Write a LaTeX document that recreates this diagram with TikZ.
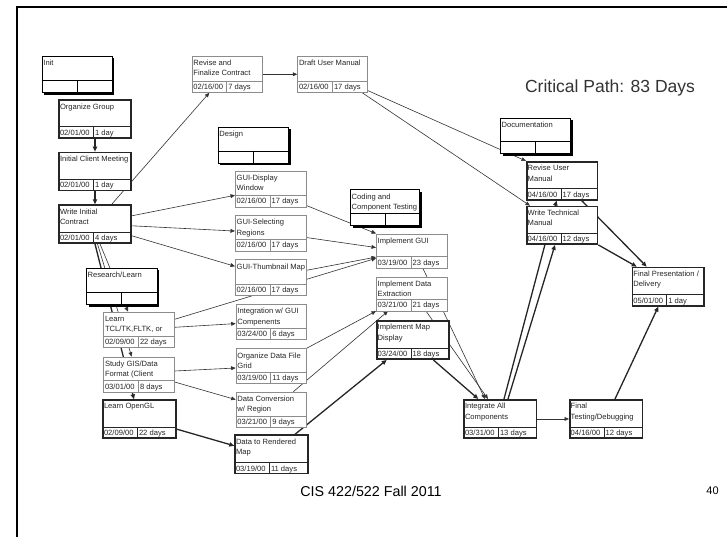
\documentclass[tikz,border=0pt]{standalone}
\usepackage{fontspec}
\setmainfont{Liberation Sans}
\usetikzlibrary{arrows.meta,shadows}
\pgfdeclarelayer{back}
\pgfdeclarelayer{bg}
\pgfsetlayers{back,bg,main}
\tikzset{
 thinbox/.style={draw=black!45, line width=0.6pt, fill=white, inner sep=0pt},
 critbox/.style={draw=black!85, line width=1.6pt, fill=white, inner sep=0pt},
 sumbox/.style={draw=black, line width=0.6pt, fill=white, inner sep=0pt,
   drop shadow={shadow xshift=2.2pt, shadow yshift=-2.2pt, fill=black, opacity=1}},
 thinsep/.style={draw=black!45, line width=0.5pt},
 critsep/.style={draw=black!85, line width=0.8pt},
 sumsep/.style={draw=black, line width=0.5pt},
 ttext/.style={font=\fontsize{7.6}{10.4}\selectfont, inner sep=0pt, align=left, text=black!85},
 link/.style={draw=black!80, line width=0.6pt, -{Triangle[length=4.5pt,width=3.8pt]}},
 critlink/.style={draw=black!85, line width=1.3pt, -{Triangle[length=5pt,width=4.2pt]}},
}
\newcommand\taskbox[9]{%
 \node[#2box, minimum width=#5, minimum height=#6, anchor=north west] (#1) at (#3,#4) {};
 \draw[#2sep] ([yshift=12pt]#1.south west) -- ([yshift=12pt]#1.south east)
   ([xshift=35pt,yshift=12pt]#1.south west) -- ([xshift=35pt]#1.south west);
 \node[ttext, anchor=north west] (#1-t) at ([xshift=1.5pt,yshift=-4pt]#1.north west) {#7};
 \node[ttext, anchor=base west] (#1-d) at ([xshift=1.5pt,yshift=3.3pt]#1.south west) {#8};
 \node[ttext, anchor=base west] (#1-u) at ([xshift=36.5pt,yshift=3.3pt]#1.south west) {#9};
}
\newcommand\sumtask[6]{%
 \node[sumbox, minimum width=#4, minimum height=#5, anchor=north west] (#1) at (#2,#3) {};
 \draw[sumsep] ([yshift=12.5pt]#1.south west) -- ([yshift=12.5pt]#1.south east)
   ([xshift=35.3pt,yshift=12.5pt]#1.south west) -- ([xshift=35.3pt]#1.south west);
 \node[ttext, anchor=north west] (#1-t) at ([xshift=1.5pt,yshift=-4pt]#1.north west) {#6};
}
\begin{document}
\begin{tikzpicture}[x=1pt,y=-1pt]
\useasboundingbox (0,0) rectangle (727,537);
\begin{pgfonlayer}{back}
\fill[white] (0,0) rectangle (727,537);
\end{pgfonlayer}
\draw[line width=1.8pt] (17,537) -- (17,7) -- (727,7);

% summary boxes
\sumtask{init}{41.7}{55.7}{70}{36.6}{Init}
\sumtask{design}{217.7}{126.7}{70.6}{36}{Design}
\sumtask{coding}{350}{189.3}{69.3}{35.7}{Coding and\\Component Testing}
\sumtask{research}{86}{267.7}{70.7}{36.3}{Research/Learn}
\sumtask{doc}{500}{117.7}{70}{35.6}{Documentation}

% tasks
\taskbox{og}{crit}{58.3}{99.3}{72}{38}{Organize Group}{02/01/00}{1 day}
\taskbox{icm}{crit}{58.3}{151.7}{72}{38}{Initial Client Meeting}{02/01/00}{1 day}
\taskbox{wic}{crit}{58.3}{204.3}{72}{38}{Write Initial\\Contract}{02/01/00}{4 days}
\taskbox{rfc}{thin}{191.7}{55.7}{70.5}{36.5}{Revise and\\Finalize Contract}{02/16/00}{7 days}
\taskbox{dum}{thin}{297.3}{55.7}{70}{36.5}{Draft User Manual}{02/16/00}{17 days}
\taskbox{gdw}{thin}{235}{170.7}{71}{36}{GUI-Display\\Window}{02/16/00}{17 days}
\taskbox{gsr}{thin}{235}{215}{71}{35.5}{GUI-Selecting\\Regions}{02/16/00}{17 days}
\taskbox{gtm}{thin}{235}{259.3}{71}{36}{GUI-Thumbnail Map}{02/16/00}{17 days}
\taskbox{igui}{thin}{376}{233.5}{71}{34.5}{Implement GUI}{03/19/00}{23 days}
\taskbox{ide}{thin}{376}{276.5}{71}{34}{Implement Data\\Extraction}{03/21/00}{21 days}
\taskbox{imd}{crit}{376}{320}{72.3}{38.3}{Implement Map\\Display}{03/24/00}{18 days}
\taskbox{ltcl}{thin}{103.3}{311.7}{70.7}{35.6}{Learn\\TCL/TK,FLTK, or}{02/09/00}{22 days}
\taskbox{sgis}{thin}{103.3}{356.7}{70.7}{35}{Study GIS/Data\\Format (Client}{03/01/00}{8 days}
\taskbox{log}{crit}{102.3}{399.3}{72.7}{38}{Learn OpenGL}{02/09/00}{22 days}
\taskbox{iwg}{thin}{235.7}{304}{70.3}{35.3}{Integration w/ GUI\\Compenents}{03/24/00}{6 days}
\taskbox{odf}{thin}{235.7}{348.3}{70.3}{35}{Organize Data File\\Grid}{03/19/00}{11 days}
\taskbox{dcr}{thin}{235.7}{391.7}{70.3}{35.6}{Data Conversion\\w/ Region}{03/21/00}{9 days}
\taskbox{drm}{crit}{234.3}{434.3}{73}{38.4}{Data to Rendered\\Map}{03/19/00}{11 days}
\taskbox{rum}{crit}{526}{161}{70.7}{38}{Revise User\\Manual}{04/16/00}{17 days}
\taskbox{wtm}{crit}{526}{205.7}{70.7}{37.6}{Write Technical\\Manual}{04/16/00}{12 days}
\taskbox{fpd}{crit}{631.7}{266.7}{71.6}{38.3}{Final Presentation /\\Delivery}{05/01/00}{1 day}
\taskbox{iac}{crit}{463.3}{399}{72.4}{38.3}{Integrate All\\Components}{03/31/00}{13 days}
\taskbox{ftd}{crit}{569}{399}{72.7}{38.3}{Final\\Testing/Debugging}{04/16/00}{12 days}

\node[font=\fontsize{17.5}{20}\selectfont, text=black!80] (cp) at (610,88) {Critical Path: 83 Days};
\node[font=\fontsize{14.3}{16}\selectfont] (foot) at (371,491) {CIS 422/522 Fall 2011};
\node[font=\fontsize{11}{13}\selectfont] (pg) at (712.5,491) {40};

\begin{pgfonlayer}{bg}
\draw[critlink] ([xshift=36.7pt]og.south west) -- ([xshift=36.7pt]icm.north west);
\draw[critlink] ([xshift=36.7pt]icm.south west) -- ([xshift=36.7pt]wic.north west);
\draw[link] ([xshift=53.4pt]wic.north west) -- ([xshift=17.6pt]rfc.south west);
\draw[link] (rfc.east) -- (dum.west);
\draw[link] ([yshift=2.2pt]dum.south east) -- (rum.north west);
\draw[link] ([xshift=-5.6pt]dum.south east) -- ([xshift=4pt]wtm.north west);
\draw[link] ([yshift=8.3pt]wic.east) -- ([yshift=-6.3pt]gdw.west);
\draw[link] ([yshift=-1.7pt]wic.east) -- ([yshift=2pt]gsr.west);
\draw[link] ([yshift=-11.7pt]wic.east) -- ([yshift=11.3pt]gtm.west);
\draw[link] ([xshift=41.7pt]wic.south west) -- ([xshift=24.7pt]ltcl.north west);
\draw[link] ([xshift=39.2pt]wic.south west) -- ([xshift=28.4pt]sgis.north west);
\draw[critlink] ([xshift=36.7pt]wic.south west) -- ([xshift=31.7pt]log.north west);
\draw[link] ([yshift=10.5pt]ltcl.east) -- ([yshift=-7.25pt]igui.west);
\draw[link] ([yshift=2.5pt]ltcl.east) -- ([yshift=-1.65pt]iwg.west);
\draw[link] ([yshift=3.5pt]sgis.east) -- ([yshift=-1.9pt]odf.west);
\draw[link] ([yshift=-7.5pt]sgis.east) -- ([yshift=10.2pt]dcr.west);
\draw[critlink] ([yshift=-10pt]log.east) -- ([yshift=8.5pt]drm.west);
\draw[link] ([yshift=1.7pt]gdw.south east) -- (igui.north west);
\draw[link] ([yshift=-4.5pt]gsr.east) -- ([yshift=3.5pt]igui.west);
\draw[link] ([yshift=7.3pt]gtm.east) -- ([yshift=-6pt]igui.west);
\draw[link] (odf.north east) -- (ide.south west);
\draw[link] ([xshift=57.6pt]dcr.north west) -- ([xshift=12pt]ide.south west);
\draw[critlink] ([xshift=60.7pt]drm.north west) -- ([xshift=10.7pt]imd.south west);
\draw[link] ([xshift=47pt]igui.south west) -- ([xshift=21.7pt]iac.north west);
\draw[link] ([xshift=50pt]ide.south west) -- ([xshift=24.7pt]iac.north west);
\draw[critlink] ([xshift=57.3pt]imd.south west) -- ([xshift=15pt]iac.north west);
\draw[link] (iac.east) -- (ftd.west);
\draw[critlink] ([xshift=40.7pt]iac.north west) -- ([xshift=30.6pt]rum.south west);
\draw[critlink] ([xshift=44.7pt]iac.north west) -- ([xshift=29pt]wtm.south west);
\draw[critlink] ([xshift=55.7pt]rum.south west) -- ([xshift=15pt]fpd.north west);
\draw[critlink] (wtm.south east) -- ([xshift=5pt]fpd.north west);
\draw[critlink] ([xshift=46pt]ftd.north west) -- ([xshift=26.6pt]fpd.south west);
\end{pgfonlayer}
\end{tikzpicture}
\end{document}
